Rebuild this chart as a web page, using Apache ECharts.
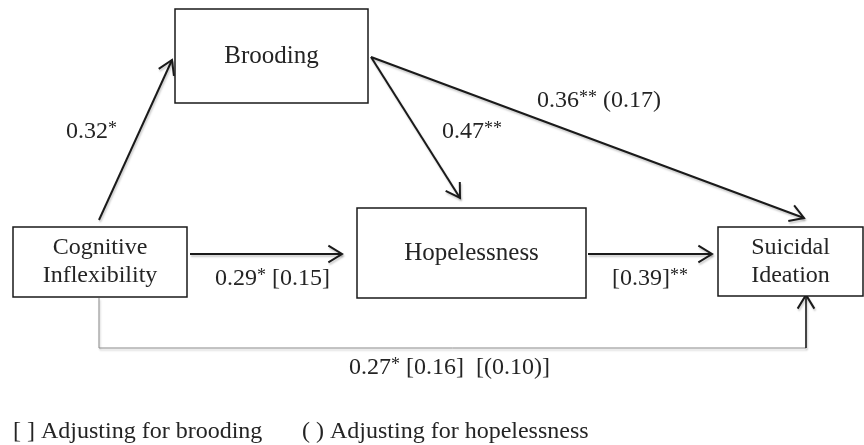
<!DOCTYPE html>
<html>
<head>
<meta charset="utf-8">
<title>Path model</title>
<script src="https://cdn.jsdelivr.net/npm/echarts@6/dist/echarts.min.js"></script>
<style>
html, body { margin: 0; padding: 0; background: #fff; }
#chart { width: 864px; height: 445px; }
</style>
</head>
<body>
<div id="chart"></div>
<script>
// variables of the model
const nodeNames = ['Brooding', 'Cognitive\nInflexibility', 'Hopelessness', 'Suicidal\nIdeation']
// paths: coefficient, significance, adjusted estimates
const pathNames = ['CI-Brooding', 'Brooding-Hopelessness', 'Brooding-SI', 'CI-Hopelessness', 'Hopelessness-SI', 'CI-SI']
const pathCoef = ['0.32', '0.47', '0.36', '0.29', '[0.39]', '0.27']
const pathStars = ['*', '**', '**', '*', '**', '*']
const pathAdjusted = ['', '', ' (0.17)', ' [0.15]', '', ' [0.16]  [(0.10)]']
const legendNotes = ['[ ] Adjusting for brooding', '( ) Adjusting for hopelessness']

// layout, in diagram units (same as the 864 x 445 picture, y going down)
const nodeBox = [[175, 9, 368, 103], [13, 227, 187, 297], [357, 208, 586, 298], [718, 227, 863, 296]]
const nodeFont = [25, 24, 25, 24]
const pathRoute = [
  [[99, 220], [172, 60]],
  [[371, 57], [460, 198]],
  [[371, 57], [804, 218]],
  [[190, 254], [342, 254]],
  [[588, 254], [712, 254]],
  [[99, 298], [99, 348], [806, 348], [806, 295]]
]
const pathLabelPos = [[66, 132], [442, 132], [537, 101], [215, 279], [612, 279], [349, 368]]
const legendPos = [[13, 432], [302, 432]]

const SERIF = '"Liberation Serif", "Times New Roman", serif'
const TEXT = '#242424'
const LINE = '#1a1a1a'
const shadow = { shadowBlur: 2, shadowOffsetX: 1, shadowOffsetY: 2, shadowColor: 'rgba(0,0,0,0.22)' }

function chevron (tip, from, len, ang) {
  const a = Math.atan2(tip[1] - from[1], tip[0] - from[0])
  return [
    [tip[0] - len * Math.cos(a - ang), tip[1] - len * Math.sin(a - ang)],
    tip,
    [tip[0] - len * Math.cos(a + ang), tip[1] - len * Math.sin(a + ang)]
  ]
}

function renderNode (params, api) {
  const b = nodeBox[params.dataIndex]
  const p0 = api.coord([b[0], b[1]])
  const p1 = api.coord([b[2], b[3]])
  return {
    type: 'group',
    children: [{
      type: 'rect',
      shape: { x: p0[0], y: p0[1], width: p1[0] - p0[0], height: p1[1] - p0[1] },
      style: { fill: '#fff', stroke: LINE, lineWidth: 1.5 }
    }, {
      type: 'text',
      style: {
        text: nodeNames[params.dataIndex],
        x: (p0[0] + p1[0]) / 2,
        y: (p0[1] + p1[1]) / 2,
        align: 'center',
        verticalAlign: 'middle',
        fontFamily: SERIF,
        fontSize: nodeFont[params.dataIndex],
        lineHeight: 28,
        fill: TEXT
      }
    }]
  }
}

function renderPath (params, api) {
  const i = params.dataIndex
  const pts = pathRoute[i].map(p => api.coord(p))
  const children = []
  const n = pts.length
  if (n > 2) {
    // elbow route: thin grey run, black last leg into the box
    children.push({
      type: 'polyline',
      shape: { points: pts.slice(0, n - 1) },
      style: Object.assign({ fill: null, stroke: '#8a8a8a', lineWidth: 1 }, shadow)
    })
  }
  const from = pts[n - 2]
  const tip = pts[n - 1]
  children.push({
    type: 'line',
    shape: { x1: from[0], y1: from[1], x2: tip[0], y2: tip[1] },
    style: Object.assign({ stroke: LINE, lineWidth: n > 2 ? 1.6 : 2 }, shadow)
  })
  children.push({
    type: 'polyline',
    shape: { points: chevron(tip, from, 16, 0.55) },
    style: Object.assign({ fill: null, stroke: LINE, lineWidth: 2 }, shadow)
  })
  const lp = api.coord(pathLabelPos[i])
  children.push({
    type: 'text',
    style: {
      text: pathCoef[i] + '{s|' + pathStars[i] + '}' + pathAdjusted[i],
      x: lp[0],
      y: lp[1],
      align: 'left',
      verticalAlign: 'middle',
      fontFamily: SERIF,
      fontSize: 24,
      fill: TEXT,
      rich: { s: { fontFamily: SERIF, fontSize: 18, verticalAlign: 'top', padding: [0, 0, 3, 0], fill: TEXT } }
    }
  })
  return { type: 'group', children: children }
}

function renderNote (params, api) {
  const p = api.coord(legendPos[params.dataIndex])
  return {
    type: 'text',
    style: {
      text: legendNotes[params.dataIndex],
      x: p[0],
      y: p[1],
      align: 'left',
      verticalAlign: 'middle',
      fontFamily: SERIF,
      fontSize: 24,
      fill: TEXT
    }
  }
}

const chart = echarts.init(document.getElementById('chart'))
chart.setOption({
  animation: false,
  backgroundColor: '#fff',
  grid: { left: 0, right: 0, top: 0, bottom: 0 },
  xAxis: { type: 'value', min: 0, max: 864, show: false },
  yAxis: { type: 'value', min: 0, max: 445, inverse: true, show: false },
  series: [{
    type: 'custom',
    name: 'paths',
    renderItem: renderPath,
    data: pathNames.map((name, i) => ({ name: name, value: pathLabelPos[i] }))
  }, {
    type: 'custom',
    name: 'nodes',
    renderItem: renderNode,
    data: nodeNames.map((name, i) => ({ name: name, value: [(nodeBox[i][0] + nodeBox[i][2]) / 2, (nodeBox[i][1] + nodeBox[i][3]) / 2] }))
  }, {
    type: 'custom',
    name: 'notes',
    renderItem: renderNote,
    data: legendNotes.map((t, i) => ({ name: t, value: legendPos[i] }))
  }]
})
</script>
</body>
</html>
